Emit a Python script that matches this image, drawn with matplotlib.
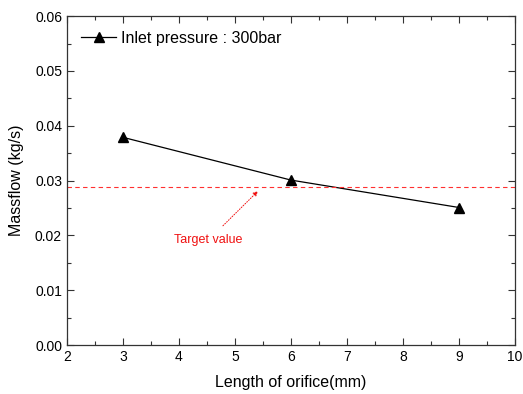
import matplotlib
matplotlib.use("Agg")
import matplotlib.pyplot as plt
from matplotlib.ticker import MultipleLocator

plt.rcParams['font.family'] = ['Liberation Sans', 'DejaVu Sans']

length_mm = [3, 6, 9]
massflow = [0.0379, 0.0301, 0.0251]
target_value = 0.0288
series_label = "Inlet pressure : 300bar"

fig = plt.figure(figsize=(5.23, 3.94), dpi=100)
ax = fig.add_axes([0.128, 0.124, 0.857, 0.835])

ax.plot(length_mm, massflow, color='black', lw=0.9, marker='^', markersize=7,
        label=series_label)
ax.axhline(target_value, color='#ff3030', lw=0.8, ls=(0, (4, 3)))
ax.annotate("Target value", xy=(5.41, 0.0281), xytext=(4.52, 0.0191),
            ha='center', va='center', color='#f01010', fontsize=9,
            arrowprops=dict(arrowstyle='-|>', color='#f01010', lw=0.7, ls=':',
                            mutation_scale=7, shrinkA=6, shrinkB=0))

ax.set_xlim(2, 10)
ax.set_ylim(0, 0.06)
ax.xaxis.set_major_locator(MultipleLocator(1))
ax.xaxis.set_minor_locator(MultipleLocator(0.5))
ax.yaxis.set_major_locator(MultipleLocator(0.01))
ax.yaxis.set_minor_locator(MultipleLocator(0.005))
ax.yaxis.set_major_formatter(matplotlib.ticker.FormatStrFormatter('%.2f'))
ax.tick_params(which='both', direction='in', top=True, right=True, labelsize=10,
               width=0.8, color='#333333')
ax.tick_params(which='major', length=5)
ax.tick_params(which='minor', length=3)
for s in ax.spines.values():
    s.set_linewidth(0.9)
    s.set_color('#333333')

ax.set_xlabel("Length of orifice(mm)", fontsize=11.5, labelpad=8)
ax.set_ylabel("Massflow (kg/s)", fontsize=11.5, labelpad=8)

ax.legend(loc='upper left', frameon=False, fontsize=11.5, handlelength=2.2,
          handletextpad=0.3, borderaxespad=0.5)

fig.savefig("out.png", dpi=100)
